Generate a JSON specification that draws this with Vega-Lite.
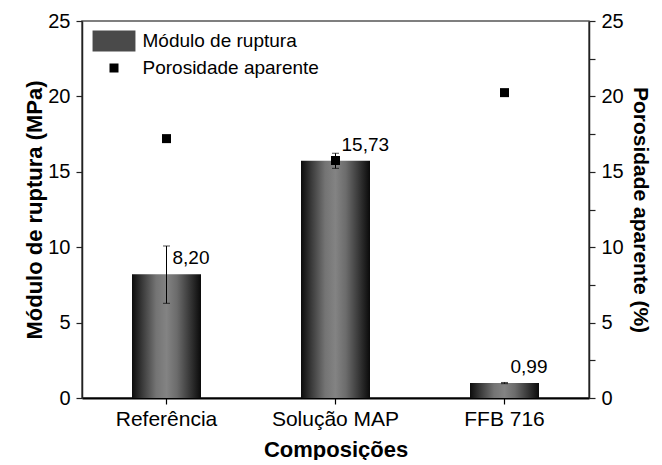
{
  "$schema": "https://vega.github.io/schema/vega-lite/v6.json",
  "width": 507,
  "height": 377,
  "padding": {"left": 23, "top": 11, "right": 0, "bottom": 0},
  "background": "white",
  "config": {
    "font": "Liberation Sans",
    "view": {"stroke": "#555555", "strokeWidth": 1.5},
    "axis": {"grid": false, "labelColor": "black", "titleColor": "black", "labelFont": "Liberation Sans", "titleFont": "Liberation Sans"}
  },
  "data": {
    "values": [
      {"comp": "Referência", "modulo": 8.20, "lo": 6.28, "hi": 10.08, "poros": 17.2, "label": "8,20"},
      {"comp": "Solução MAP", "modulo": 15.73, "lo": 15.23, "hi": 16.23, "poros": 15.75, "label": "15,73"},
      {"comp": "FFB 716", "modulo": 0.99, "lo": 0.95, "hi": 1.03, "poros": 20.25, "label": "0,99"}
    ]
  },
  "layer": [
    {
      "encoding": {
        "x": {
          "field": "comp", "type": "nominal", "sort": null,
          "scale": {"paddingInner": 0, "paddingOuter": 0},
          "axis": {
            "title": "Composições", "titleFontSize": 22, "titleFontWeight": "bold", "titlePadding": 10,
            "labelAngle": 0, "labelFontSize": 21, "labelPadding": 4,
            "domainColor": "black", "domainWidth": 2, "tickColor": "black", "tickWidth": 1.2, "tickSize": 6
          }
        }
      },
      "layer": [
        {
          "mark": {
            "type": "bar", "size": 69,
            "fill": {
              "gradient": "linear", "x1": 0, "y1": 0, "x2": 1, "y2": 0,
              "stops": [
                {"offset": 0, "color": "#0c0c0c"},
                {"offset": 0.15, "color": "#3a3a3a"},
                {"offset": 0.35, "color": "#747474"},
                {"offset": 0.5, "color": "#838383"},
                {"offset": 0.65, "color": "#6c6c6c"},
                {"offset": 0.85, "color": "#343434"},
                {"offset": 1, "color": "#0a0a0a"}
              ]
            }
          },
          "encoding": {
            "y": {
              "field": "modulo", "type": "quantitative",
              "scale": {"domain": [0, 25], "nice": false, "zero": true},
              "axis": {
                "title": "Módulo de ruptura (MPa)", "titleFontSize": 22, "titleFontWeight": "bold", "titlePadding": 1,
                "values": [0, 2.5, 5, 7.5, 10, 12.5, 15, 17.5, 20, 22.5, 25],
                "labelExpr": "datum.value % 5 === 0 ? datum.label : ''",
                "labelFontSize": 20, "labelPadding": 6,
                "domainColor": "#222222", "domainWidth": 1.5,
                "tickColor": "#222222", "tickWidth": 1.2, "tickSize": 6,
                "encode": {"ticks": {"x2": {"condition": {"test": "datum.value % 5 === 0", "value": -6}, "value": -3}}}
              }
            }
          }
        },
        {
          "mark": {"type": "rule", "strokeWidth": 1, "color": "black"},
          "encoding": {
            "y": {"field": "lo", "type": "quantitative"},
            "y2": {"field": "hi"}
          }
        },
        {
          "mark": {"type": "tick", "orient": "horizontal", "size": 7, "thickness": 1, "color": "black"},
          "encoding": {"y": {"field": "hi", "type": "quantitative"}}
        },
        {
          "mark": {"type": "tick", "orient": "horizontal", "size": 7, "thickness": 1, "color": "black"},
          "encoding": {"y": {"field": "lo", "type": "quantitative"}}
        },
        {
          "mark": {"type": "text", "align": "left", "baseline": "middle", "dx": 6, "dy": -16, "fontSize": 19, "font": "Liberation Sans", "color": "black"},
          "encoding": {
            "y": {"field": "modulo", "type": "quantitative"},
            "text": {"field": "label"}
          }
        }
      ]
    },
    {
      "mark": {"type": "point", "filled": true, "opacity": 1},
      "encoding": {
        "x": {"field": "comp", "type": "nominal", "sort": null},
        "y": {
          "field": "poros", "type": "quantitative",
          "scale": {"domain": [0, 25], "nice": false, "zero": true},
          "axis": {
            "orient": "right",
            "title": "Porosidade aparente (%)", "titleFontSize": 21, "titleFontWeight": "bold", "titlePadding": 6,
            "values": [0, 2.5, 5, 7.5, 10, 12.5, 15, 17.5, 20, 22.5, 25],
            "labelExpr": "datum.value % 5 === 0 ? datum.label : ''",
            "labelFontSize": 20, "labelPadding": 6,
            "domainColor": "#222222", "domainWidth": 1.5,
            "tickColor": "#222222", "tickWidth": 1.2, "tickSize": 6,
            "encode": {"ticks": {"x2": {"condition": {"test": "datum.value % 5 === 0", "value": 6}, "value": 3}}}
          }
        },
        "color": {
          "datum": "Porosidade aparente",
          "scale": {"domain": ["Módulo de ruptura", "Porosidade aparente"], "range": ["#4a4a4a", "black"]},
          "legend": {
            "orient": "none", "legendX": 20, "legendY": 8,
            "title": null,
            "labelFont": "Liberation Sans", "labelFontSize": 19, "labelColor": "black", "labelLimit": 400,
            "labelOffset": 16.5, "rowPadding": 6.5
          }
        },
        "shape": {
          "datum": "Porosidade aparente",
          "scale": {"domain": ["Módulo de ruptura", "Porosidade aparente"], "range": ["M-1.95,-0.95H1.95V0.95H-1.95Z", "square"]},
          "legend": {
            "orient": "none", "legendX": 20, "legendY": 8,
            "title": null,
            "labelFont": "Liberation Sans", "labelFontSize": 19, "labelColor": "black", "labelLimit": 400,
            "labelOffset": 16.5, "rowPadding": 6.5
          }
        },
        "size": {
          "datum": "Porosidade aparente",
          "scale": {"domain": ["Módulo de ruptura", "Porosidade aparente"], "range": [484, 81]},
          "legend": {
            "orient": "none", "legendX": 20, "legendY": 8,
            "title": null,
            "labelFont": "Liberation Sans", "labelFontSize": 19, "labelColor": "black", "labelLimit": 400,
            "labelOffset": 16.5, "rowPadding": 6.5
          }
        }
      }
    }
  ],
  "resolve": {"scale": {"y": "independent"}}
}
